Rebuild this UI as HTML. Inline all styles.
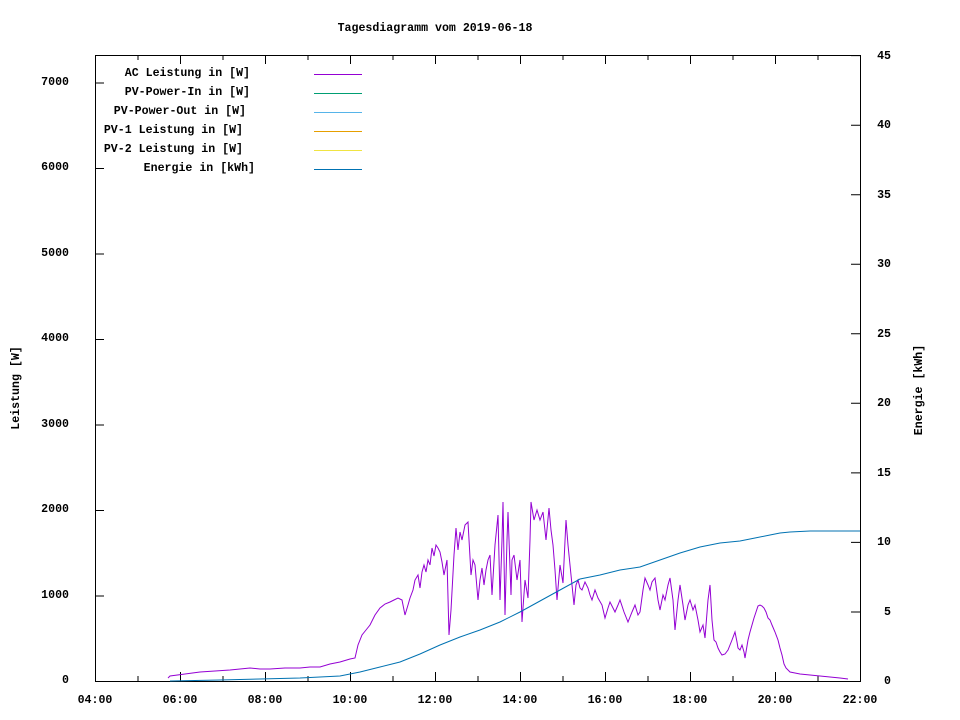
<!DOCTYPE html><html><head><style>body{margin:0;background:#fff}svg{display:block}text{font-family:"Liberation Mono",monospace;font-size:11.6px;font-weight:bold;fill:#000}</style></head><body>
<svg width="960" height="720" xmlns="http://www.w3.org/2000/svg">
<text x="435" y="31" text-anchor="middle">Tagesdiagramm vom 2019-06-18</text>
<rect x="95.5" y="55.5" width="765" height="626" fill="none" stroke="#000"/>
<g stroke="#000" stroke-width="1">
<path d="M95,681.5h9M95,596h9M95,510.5h9M95,425h9M95,339.5h9M95,254h9M95,168.5h9M95,83h9"/>
<path d="M860,681.5h-9M860,612h-9M860,542.4h-9M860,472.9h-9M860,403.3h-9M860,333.8h-9M860,264.3h-9M860,194.7h-9M860,125.2h-9M860,55.6h-9"/>
<path d="M95.5,681v-9M138,681v-5M180.5,681v-9M223,681v-5M265.5,681v-9M308,681v-5M350.5,681v-9M393,681v-5M435.5,681v-9M478,681v-5M520.5,681v-9M563,681v-5M605.5,681v-9M648,681v-5M690.5,681v-9M733,681v-5M775.5,681v-9M818,681v-5"/>
<path d="M95.5,55v9M138,55v5M180.5,55v9M223,55v5M265.5,55v9M308,55v5M350.5,55v9M393,55v5M435.5,55v9M478,55v5M520.5,55v9M563,55v5M605.5,55v9M648,55v5M690.5,55v9M733,55v5M775.5,55v9M818,55v5"/>
</g>
<g text-anchor="end">
<text x="69" y="683">0</text><text x="69" y="598">1000</text><text x="69" y="512">2000</text><text x="69" y="427">3000</text><text x="69" y="341">4000</text><text x="69" y="256">5000</text><text x="69" y="170">6000</text><text x="69" y="85">7000</text>
</g>
<g text-anchor="end">
<text x="891" y="684">0</text><text x="891" y="615">5</text><text x="891" y="545">10</text><text x="891" y="476">15</text><text x="891" y="406">20</text><text x="891" y="337">25</text><text x="891" y="267">30</text><text x="891" y="198">35</text><text x="891" y="128">40</text><text x="891" y="59">45</text>
</g>
<g text-anchor="middle">
<text x="95" y="703">04:00</text><text x="180" y="703">06:00</text><text x="265" y="703">08:00</text><text x="350" y="703">10:00</text><text x="435" y="703">12:00</text><text x="520" y="703">14:00</text><text x="605" y="703">16:00</text><text x="690" y="703">18:00</text><text x="775" y="703">20:00</text><text x="860" y="703">22:00</text>
</g>
<text transform="translate(19,388) rotate(-90)" text-anchor="middle">Leistung [W]</text>
<text transform="translate(922,390) rotate(-90)" text-anchor="middle">Energie [kWh]</text>
<g text-anchor="end">
<text x="250" y="76">AC Leistung in [W]</text>
<text x="250" y="95">PV-Power-In in [W]</text>
<text x="246" y="114">PV-Power-Out in [W]</text>
<text x="243" y="133">PV-1 Leistung in [W]</text>
<text x="243" y="152">PV-2 Leistung in [W]</text>
<text x="255" y="171">Energie in [kWh]</text>
</g>
<path d="M314,74.5h48" stroke="#9400d3"/>
<path d="M314,93.5h48" stroke="#009e73"/>
<path d="M314,112.5h48" stroke="#56b4e9"/>
<path d="M314,131.5h48" stroke="#e69f00"/>
<path d="M314,150.5h48" stroke="#f0e442"/>
<path d="M314,169.5h48" stroke="#0072b2"/>
<polyline fill="none" stroke="#9400d3" stroke-width="1" points="168,678 170,676 185,674 200,672 215,671 230,670 250,668 260,669 270,669 285,668 300,668 310,667 320,667 330,664 340,662 350,659 355,658 358,645 362,635 366,630 370,625 375,615 380,608 385,604 390,602 394,600 398,598 402,600 405,615 408,605 410,598 413,590 415,580 418,575 420,588 422,572 424,565 426,572 428,560 430,565 432,548 434,556 436,545 438,548 440,552 442,562 444,575 447,560 449,635 451,610 454,555 456,528 458,550 460,532 462,540 465,525 468,522 471,575 473,560 475,565 478,600 480,580 482,568 484,585 486,570 488,560 490,555 492,595 495,545 497,525 498,515 500,600 502,540 503,502 505,615 507,540 508,512 511,595 512,560 514,555 517,580 520,560 522,622 525,580 528,598 530,540 531,502 534,520 537,510 540,520 543,512 546,540 549,508 551,530 553,545 555,570 557,600 560,565 563,583 566,520 568,545 571,575 574,605 576,585 578,580 580,588 582,590 585,582 588,588 590,595 592,600 595,590 598,598 602,605 605,618 608,608 610,602 613,608 615,612 618,605 620,600 624,612 628,622 632,612 635,605 638,615 640,612 643,590 645,578 648,585 650,590 652,582 655,578 658,600 660,610 663,595 665,600 668,585 670,578 673,600 675,630 678,600 680,585 683,605 685,620 688,605 690,600 693,610 695,605 698,620 700,632 703,625 705,638 708,600 710,585 712,620 714,640 716,642 718,648 720,652 722,655 725,654 728,650 730,645 732,640 735,632 737,642 738,648 740,650 742,645 744,652 745,658 748,640 750,632 752,625 754,618 756,612 758,606 760,605 762,606 764,608 766,612 768,618 770,620 772,625 775,632 778,640 780,648 782,655 784,664 786,668 790,672 795,673 800,674 810,675 820,676 830,677 840,678 848,679"/>
<polyline fill="none" stroke="#0072b2" stroke-width="1" points="170,681 220,680 260,679 300,678 320,677 340,676 350,674 360,672 380,667 400,662 420,654 440,645 460,637 480,630 500,622 520,612 540,601 560,590 580,579 600,575 620,570 640,567 660,560 680,553 700,547 720,543 740,541 755,538 770,535 780,533 790,532 810,531 860,531"/>
</svg>
</body></html>
